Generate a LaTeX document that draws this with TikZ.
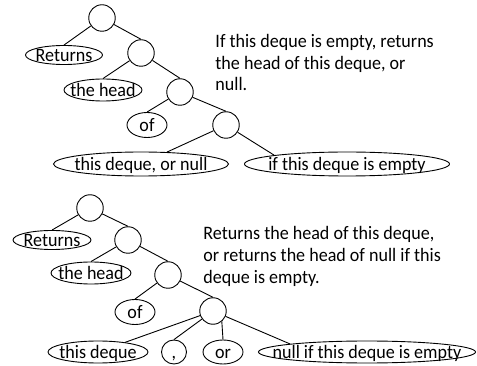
\documentclass[tikz,border=0pt]{standalone}
\usepackage{fontspec}
\setmainfont{Carlito}[FakeStretch=0.95]
\usetikzlibrary{shapes.geometric}
\newcommand\leaftxt[1]{\smash{\raisebox{-6.5pt}{\makebox[0pt]{#1}}}}
\begin{document}
\begin{tikzpicture}[x=1pt,y=-1pt,line width=0.9pt,
  every node/.style={font=\fontsize{19}{22}\selectfont},
  circ/.style={circle,draw,minimum size=26.5pt,inner sep=0pt},
  leaf/.style={ellipse,draw,inner sep=0pt},
  linetext/.style={anchor=base west,inner sep=0pt}]
\useasboundingbox (0,0) rectangle (477,366);
% ---------- top tree ----------
\node[circ] (r1) at (102,18) {};
\node[leaf,minimum width=77pt,minimum height=19pt] (ret1) at (64,55) {\leaftxt{Returns}};
\node[circ] (c2) at (141,53) {};
\node[leaf,minimum width=78pt,minimum height=22pt] (head1) at (103,90) {\leaftxt{the head}};
\node[circ] (c3) at (180,92) {};
\node[leaf,minimum width=40pt,minimum height=25pt] (of1) at (147,125) {\leaftxt{of}};
\node[circ] (c4) at (226,125) {};
\node[leaf,minimum width=175pt,minimum height=24pt] (e1) at (141,164) {\leaftxt{this deque, or null}};
\node[leaf,minimum width=205pt,minimum height=24pt] (e2) at (347,164) {\leaftxt{if this deque is empty}};
\draw (r1) -- (ret1.north);
\draw (r1) -- (c2.north);
\draw (c2) -- (head1.north);
\draw (c2) -- (c3.north);
\draw (c3) -- (of1.north);
\draw (c3) -- (c4.north);
\draw (c4) -- (e1);
\draw (c4) -- (e2.north west);
\node[linetext] (t1) at (215,47.5) {If this deque is empty, returns};
\node[linetext] (t2) at (215,69.3) {the head of this deque, or};
\node[linetext] (t3) at (215,91) {null.};
% ---------- bottom tree ----------
\node[circ] (r2) at (90,208) {};
\node[leaf,minimum width=78pt,minimum height=19pt] (ret2) at (52,240) {\leaftxt{Returns}};
\node[circ] (d2) at (128,240) {};
\node[leaf,minimum width=80pt,minimum height=22pt] (head2) at (91,273) {\leaftxt{the head}};
\node[circ] (d3) at (168,275) {};
\node[leaf,minimum width=40pt,minimum height=25pt] (of2) at (135,312) {\leaftxt{of}};
\node[circ] (d4) at (213,311) {};
\node[leaf,minimum width=100pt,minimum height=22pt] (td) at (98,352) {\leaftxt{this deque}};
\node[leaf,minimum width=25pt,minimum height=24pt] (comma) at (174,352) {\leaftxt{,}};
\node[leaf,minimum width=40pt,minimum height=24pt] (or) at (223,352) {\leaftxt{or}};
\node[leaf,minimum width=217pt,minimum height=22pt] (nl) at (367,352) {\leaftxt{null if this deque is empty}};
\draw (r2) -- (ret2.north);
\draw (r2) -- (d2.north);
\draw (d2) -- (head2.north);
\draw (d2) -- (d3.north);
\draw (d3) -- (of2.north);
\draw (d3) -- (d4.north);
\draw (d4) -- (td);
\draw (d4) -- (comma.north);
\draw (d4.-50) -- (or.north);
\draw (d4) -- (nl.north west);
\node[linetext] (b1) at (203,239.3) {Returns the head of this deque,};
\node[linetext] (b2) at (203,261.7) {or returns the head of null if this};
\node[linetext] (b3) at (203,283.5) {deque is empty.};
\end{tikzpicture}
\end{document}
